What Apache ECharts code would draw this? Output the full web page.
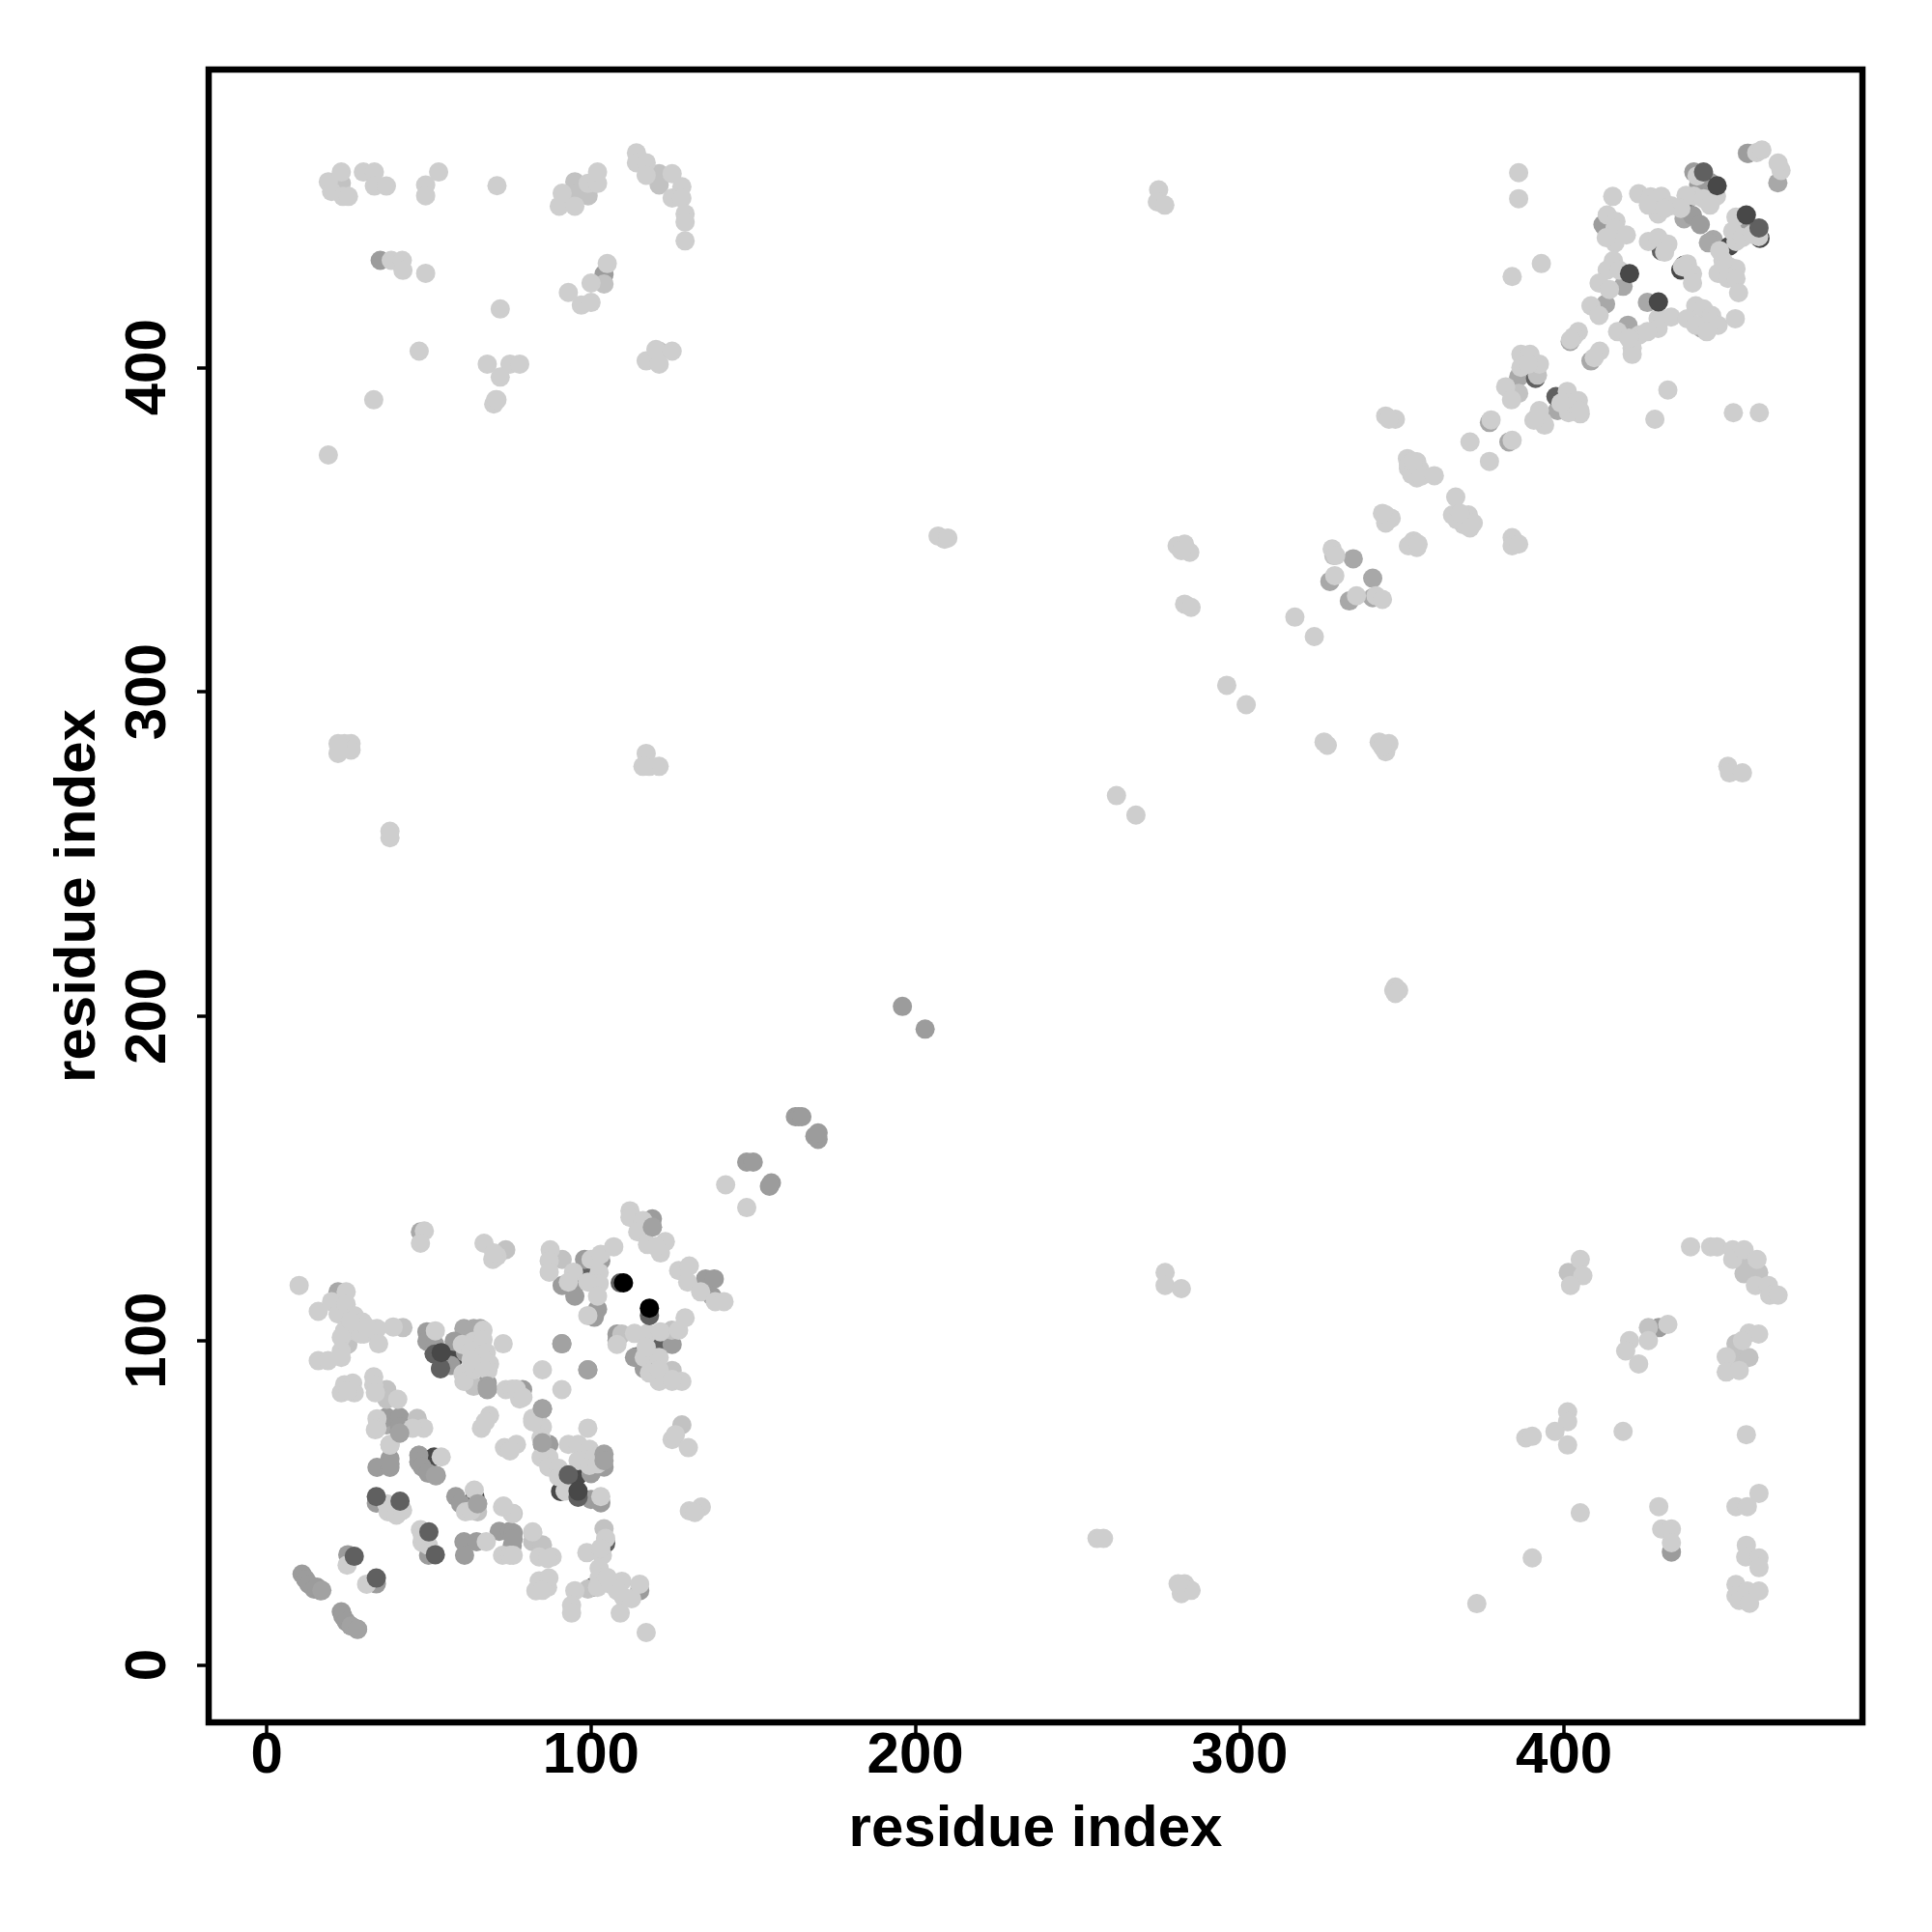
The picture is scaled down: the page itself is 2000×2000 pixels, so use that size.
<!DOCTYPE html>
<html><head><meta charset="utf-8">
<style>html,body{margin:0;padding:0;background:#fff}#c{width:2000px;height:2000px}</style>
<script src="https://cdn.jsdelivr.net/npm/echarts@6/dist/echarts.min.js"></script></head>
<body><div id="c"></div>
<script>
const axisTitle = "residue index";
const tickValues = [0,100,200,300,400];

const midUnder = [[22,115],[37,74],[47,64.6],[47,62.6],[60.8,103.7],[63.8,103.7],[65.8,103.7],[47.4,133.5],
[383,377],[377,383],[327.8,334],[333.8,328],[341,335],[341,329],[335,341],[386,397],[398,386.7],[408.3,402],[401.9,408],[412.8,442.8],[456.5,466],[465.9,456.9],[437,445.8],[446,439.4],[444.5,438.4],[418.2,425],[419.7,413],[417.7,411],[425.7,420],[442.5,412],[412.8,419.5]];
const darkestUnder = [[51.6,64.1],[64.2,51.7],[57.8,94.8],[95.6,58],[90.6,53.5],[430,438],[436,430],[451,437.4],[460.4,439.8]];
const darkUnder = [[51.6,96],[53.6,91.3],[100.5,24],[104.5,37.5],[114,95],[120,95],[98,121.6],[121.4,98.3],[430,435.9],[437,431.5],[438,451.8],[391.2,396.6],[397.5,391]];
const greyMid = [[10.9,28],[12,26.4],[13,24.9],[14.6,23.4],[16.6,22.9],[15.5,24],[23,16.4],[23.5,15],[24.5,13.4],[26,12],[28,11],[25,34],[33.8,25],[33.8,49.9],[41,47.2],[49.9,33.8],
[60.8,38],[64.7,38],[61,33.8],[38,63.6],[34,60.9],[38,60.9],[38,62],[46.9,64.6],[46.9,62.6],[47.9,61.1],[49.8,59.1],[52.3,58.4],[58.3,51.9],[59.8,49.7],[65,49.7],[71.7,41.2],[75,41.2],[75.7,36.8],[76,40.7],[76,38.8],
[40.9,72],[37,76.4],[41,76.4],[41,73.4],[41,71.5],[49.4,102.7],[49.4,99.8],[51.8,98.8],[54.8,92.8],[56.8,92.3],[57.8,99.8],[61.3,96.3],[78.9,84.9],[68,86.9],[68,84.9],[85,78.9],[85,68],[87,68],[86,68],[91.1,117],[94.6,116.6],[95,113.7],[98,125],[103,124.6],[102,109.7],[101,107.2],[108,102],[108,100],[113.4,94.8],[116.4,91.3],[119.9,94.8],[125,98.8],[118.9,135],[118.9,137.5],[135.3,119],[138,119],[137.3,113.7],[100,59],[100,51],[103,50],[104,61],[115,22.9],[91,99],[99,91],[196,203],[203,196],
[163,169],[164,169],[165,169],[169,163],[170,162],[170,164],[148,155],[150,155],[155.6,148.6],[155,147.6],[35,433],[104,428.7],[429.2,104],[433.1,34.8],[456.8,466],[440,460.2],[441.5,456.2],[445,457],[455,442.8],[412,444],[439.6,446.8],[442,444]];
const silver = [[25,98.8],[42,104],[37,84.9],[37,81.9],[46.4,76],[73.7,128],[91.1,125],[124.9,103.2],[109.5,102],[125,90.8],[128,74],[76,46.7],[82,40.7],[82,38],[85,37],[104,42],[99,23.4],[63.8,85.9],[65,47.2],
[95,457.2],[95,453.7],[99.1,452.9],[121,459.7],[121,456.2],[23,456.7],[121,405],[104,425.7],[401.3,121],[426,104],[453,99],[453,94.8],[457,94.8],[455.5,123.6],[455.5,120.6],[460,121],[386,392],[391.8,397.6],[329,342]];
const light = [[10,117],[15.9,109],[24.5,115],[20,112],[22,108.2],[24.5,111.2],[27,107.7],[29.5,105.7],[26.5,103.7],[24,103],[27,103],[30,102],[34,103.7],[39,104.2],[34.5,99],[29,102],[23,101],[23,96.8],[15.9,93.8],[18.9,93.8],[23,94.8],[26,106],[31,104],
[23,83.9],[24,86.4],[26.5,86.9],[27,83.9],[25,84.5],[33,88.8],[33,86.4],[33.5,83.9],[40.4,81.9],[34,75.9],[34,73],[48.4,73],[45,73],[38,68],[48.6,133.8],[47.4,130],[67,130],[69.7,125],[71,126],[70,127],
[52,103],[66.7,103.2],[60.3,98.8],[63.8,99.8],[66.7,100.3],[67.7,96.3],[68.7,92.8],[68.2,90.8],[60.5,89.8],[60.8,87.4],[72.9,99],[73.7,84.9],[75.7,85],[78,82],[77,85],[79,82.5],[64,91],[63,97],[66,95],[66,92],[63,94],
[87.4,128],[87.1,124.6],[87.1,121.1],[94.6,121.1],[93,118],[100,125],[103,126.6],[107,128.9],[102.5,121],[102.5,117.6],[99,118],[102,113.7],[99,107.7],[113.4,102.2],[117.4,102.2],[121.4,102.7],[127,103.2],[129,107],[108,98.8],[116.4,94.8],[121,94.8],[117,98],[121,87.4],[125,87.4],[128,87.4],[118,90],[121,91],[125,88],
[112,140],[112,138],[116,137],[114.4,133.5],[117.4,129.6],[122.9,130.5],[121.4,127],[120,129],[127,121.6],[130.3,123],[129.8,118],[133.8,115],[138.3,112],[141,112],[125,69.5],[126,71],[130,67],[130.3,47.5],[134,48.7],[132,47],
[85,91],[91,84.9],[82,76],[85,73.4],[99,73],[84.6,73.3],[84.6,70],[82,75],[72.7,48.7],[75.7,46.7],[73,49],[72.7,33.8],[75,33.8],[76,33.8],[33.5,72.5],[38,67.8],[68.7,76.9],[66.2,73],[67.4,75],[73.3,67],[77,68],[75,66],
[24.8,30.8],[30.8,24.9],[37,49.7],[37.4,47.2],[40,46.2],[41.9,47.7],[47.4,41.7],[47.9,37.8],[49.9,36.8],[48,40],[67.7,38],[61.3,47.2],[64,53.9],[63,47.5],[53.8,64.1],[38,67.8],[82,41],[84,33.3],[88,33.3],[86.6,32.8],[83,22.9],[84,25.9],[87,26.8],[86.6,23.9],[85,23],
[84.6,64],[87,64],[87,61],[90,60.6],[93,68],[96,68],[99.5,66.5],[96,63],[99.5,61.5],[90,58],[92,53.6],[103,51.9],[101,64],[102,62],[104.5,39],[98.7,34.6],[103.5,33.8],[102.5,29.8],[102.5,26.8],[102,23.9],[95,22.9],[94,18.4],[94,16],[106,24.9],[109.5,25.8],[110,20.9],[112.5,20.4],[115,24.9],[109,16],[117,10],[108,23],[105,27],[103,36],
[19,457.2],[23,460.2],[20,454.2],[23.5,452.7],[25.2,452.7],[29.8,460.2],[33.2,460.2],[33.2,455.9],[36.9,455.9],[49,456.2],[49,452.9],[53,460.2],[71,456],[90.2,449.7],[91.1,453.7],[95,449.7],[99.1,456.7],[102,456.7],[102,460.2],
[114,466.1],[114,463.1],[117,463.1],[117,459.2],[125,459.7],[125,452.2],[128,455.7],[128,452.2],[129,447.3],[129,444.8],[129,439],[38.4,433],[41.8,433],[42,429.9],[49,429],[105,432],[100,426],[93,423.1],[97,419.2],[100,420],[72,418],[47,405],[68,401],[75,401],[78,401],[72,397],[70.6,390],[70,388.7],[71,390],[33,390],[19,373],[117,402],[120,405.5],[125,405],[121,401],
[22,281],[24,284],[26,284],[26,282],[22,284],[38,257],[38,255],[117,281],[118,277],[121,277],[116,277],[256,39],[258,39],[277,121],[277,117],[282,116],[283,25],[282,22],[285,23],[281,25],[141.5,148],[148,141],
[347.5,208],[348,209],[349,208],[348,207],[209,347],[207,348],[210,347.4],[262,268],[268,262],[275,454.7],[274.6,451],[276.9,450],[386,460],[386,452],[384,428],[393,432],
[280.7,345],[283,345.5],[284.6,343],[282,343.5],[283,327],[285,326],[296,302],[302,296],[317,323],[323,317],[326,284.5],[327,283.5],[343,284.5],[346,284],[345,281.5],[344,283],
[328.5,344],[329.6,342],[329.3,335.8],[336,329.6],[342,329.6],[344,328.5],[345,354.5],[346.7,353.5],[345,352],[344,355],[353.6,346.5],[354.6,344.5],[352,345],[355,345.5],
[351.7,371.9],[354.6,370.9],[352,368.9],[354.6,365.9],[355.6,368.4],[352,370],[354,368],[353,367],[356,366.5],[353.5,371],[360,366.6],[366.6,360],[365.6,354.5],[369,351.5],[370.5,354.5],[372,352],[367,353],[368,355],[371,350.5],[384,347.5],[384,345],[386,345.5],[371,377],[377,371],[377.5,383.8],[384,377.5],[345,385],[348,384],[346,384],[392,385],[393.4,383.3],[394,382.2],[390.7,383.7],[392.4,386.7],
[432,393],[428,384],[452.2,386],[460.2,386],[386.7,404],[389.5,404],[386.7,400],[392.4,401],[389,401],[382,394],[383.8,390],[401,392.6],[404.4,389.7],[405,385.7],[401.4,386],[401.4,389],[404.9,386.7],[399,389],
[404.4,411],[403,409.5],[402,408.5],[411,405],[409.3,403],[459.4,466.2],[461,467],[466.9,460.7],[466,463],
[440,452.8],[437.6,453],[441,459],[443,452],[447,452.8],[445,450],[423,453.5],[426.7,452.6],[430,452.7],[429,447.3],[433,449.8],[436,449],[426,450],[431,449],
[415,452.7],[413.3,447],[416,445],[415.7,442.8],[419.2,440.8],[415.7,438.4],[413,440],[426,438.8],[429,440],[432,438],[431,435.5],[438,431.9],[439.6,428.9],[439.6,426],[436.5,431],
[453,446.3],[453,438.8],[452,442],[455,440],[460,440.3],[458,441],[447.5,429],[451,431],[453,430.4],[450.5,427.4],[453,427.4],[453.8,423],[449,432.9],[448,436],
[415.2,432.9],[413.3,430],[410.8,426],[417,430],[408.3,419],[410.8,416],[414,424],[429,415],[430,415],[433,415.5],[429,412],[423.2,410],[425.7,411],[421,406],[421,404],[416.5,411],[420,409],
[440.6,419],[443,418],[438,415],[445.5,416],[447.5,413],[440.6,413],[445,414],[452.8,415],[444,411],
[439,128.9],[445.2,128.9],[447.2,128.9],[452,128],[452,125],[455.5,128],[459.5,125],[459,117],[463,117],[463.4,114],[466,114],[405,125],[405.8,120],[402,117],[432,105],[426,100],[420.2,100],[419,96.8],[423,92.8],[457,102.3],[460,102],[455,100],[450,95],[450,90.3],[454,90.8],
[401.1,78],[401.1,75],[397.2,72],[401.1,67.8],[388.2,70],[390.2,70.5],[418.2,72],[456.2,71],[405,46.9],[390.2,33],[373.1,18.9],[429.2,48.8],[430.1,41.9],[433.1,41.9],[433.1,37.7],[453,48.8],[456.5,48.8],[460.1,52.9],[456.2,36.9],[456,33.3],[460.1,33],[460.1,30],[453,24.8],[453,21.3],[456.5,22.8],[460.1,22.8],[454,19.9],[457.2,19],
[450.5,277],[451,275],[455,275]];
const greyTop = [[104,65],[104,63],[68,86],[68,85],[85,79],[85,68.5],[65,49.7],[41,71.5],[17,23],[26,12],[28,11],[99,91],[91,99],[118.9,135],[52,58.4]];
const darkTop = [[27,33.5],[33.8,26.8],[33.8,51.9],[41.1,50.5],[50,41],[52,34],[51.8,95.8],[53.6,91.5],[109,117.8],[118,107.7],[93,58.6],[96,51.7],[443,460.2],[460.1,443]];
const darkest = [[53.8,96.3],[96,53.6],[447.2,456],[456.2,447],[420.2,428.9],[429.1,420.2]];
const blackPts = [[110,117.8],[118,110]];

const groups = [
  [midUnder, '#a8a8a8'], [darkestUnder, '#484848'], [darkUnder, '#606060'], [greyMid, '#9c9c9c'], [silver, '#c2c2c2'],
  [light, '#cecece'], [greyTop, '#a2a2a2'], [darkTop, '#606060'], [darkest, '#484848'], [blackPts, '#000000']
];
const font = {fontFamily:'Liberation Sans', fontWeight:'bold', fontSize:60, color:'#000'};
const axisBase = {
  type:'value', min:-17.9, max:492, scale:false,
  name:axisTitle, nameLocation:'middle', nameTextStyle:font,
  axisLine:{show:true, onZero:false, lineStyle:{color:'#000', width:1}}, splitLine:{show:false},
  axisTick:{show:true, inside:false, length:12, customValues:tickValues, lineStyle:{color:'#000', width:3.5}},
};
const chart = echarts.init(document.getElementById('c'), null, {renderer:'canvas', width:2000, height:2000});
chart.setOption({
  animation:false, backgroundColor:'#fff',
  grid:{left:216, right:72, top:72, bottom:217, show:true, borderColor:'#000', borderWidth:6.5, backgroundColor:'#fff'},
  xAxis:Object.assign({}, axisBase, {position:'bottom', nameGap:81, axisLabel:Object.assign({}, font, {customValues:tickValues, margin:5})}),
  yAxis:Object.assign({}, axisBase, {position:'left', min:-17.7, max:491.8, nameGap:105, axisLabel:Object.assign({}, font, {customValues:tickValues, rotate:90, margin:32})}),
  series:groups.map(g=>({type:'scatter', data:g[0], symbol:'circle', symbolSize:20, itemStyle:{color:g[1], opacity:1}, silent:true, clip:false}))
});
</script></body></html>
